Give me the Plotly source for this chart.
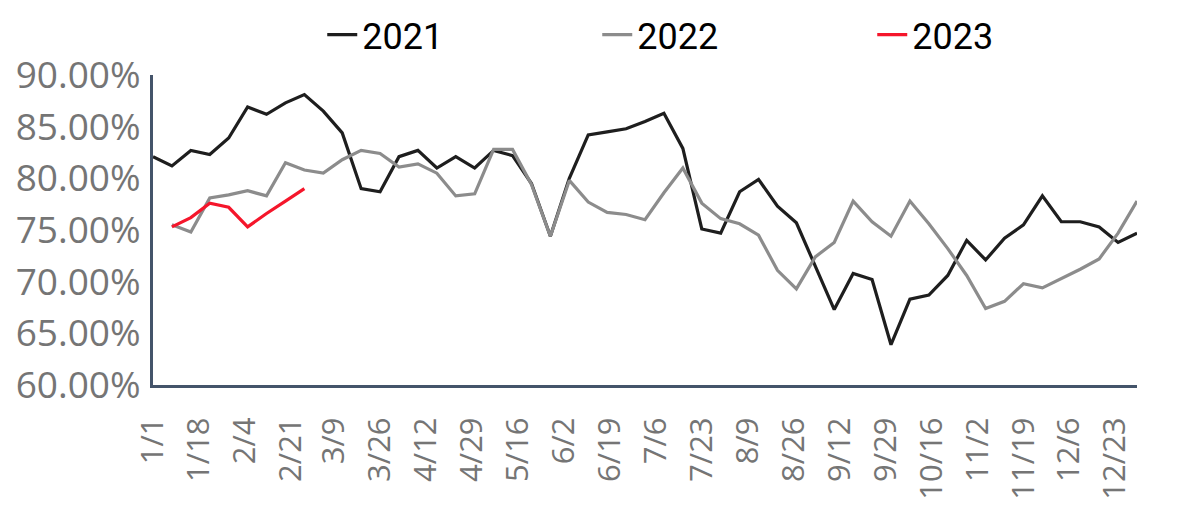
import pandas as pd
import plotly.graph_objects as go

# weekly readings, percent
y2021 = [82.1, 81.2, 82.7, 82.3, 83.9, 86.9, 86.2, 87.3, 88.1, 86.5,
         84.4, 79.0, 78.7, 82.1, 82.7, 81.0, 82.1, 81.0, 82.7, 82.2,
         79.5, 74.4, 80.0, 84.2, 84.5, 84.8, 85.5, 86.3, 82.9, 75.1,
         74.7, 78.7, 79.9, 77.3, 75.7, 71.5, 67.3, 70.8, 70.2, 63.9,
         68.3, 68.7, 70.6, 74.0, 72.1, 74.2, 75.5, 78.3, 75.8, 75.8,
         75.3, 73.8, 74.7]
y2022 = [None, 75.5, 74.8, 78.1, 78.4, 78.8, 78.3, 81.5, 80.8, 80.5,
         81.8, 82.7, 82.4, 81.1, 81.4, 80.5, 78.3, 78.5, 82.8, 82.8,
         79.4, 74.4, 79.8, 77.7, 76.7, 76.5, 76.0, 78.6, 81.0, 77.6,
         76.1, 75.6, 74.5, 71.1, 69.3, 72.4, 73.8, 77.8, 75.8, 74.4,
         77.8, 75.6, 73.2, 70.6, 67.4, 68.1, 69.8, 69.4, 70.3, 71.2,
         72.2, 74.7, 77.8]
y2023 = [None, 75.3, 76.2, 77.6, 77.2, 75.3, 76.6, 77.8, 79.0]

tick_labels = ["1/1", "1/18", "2/4", "2/21", "3/9", "3/26", "4/12", "4/29",
               "5/16", "6/2", "6/19", "7/6", "7/23", "8/9", "8/26", "9/12",
               "9/29", "10/16", "11/2", "11/19", "12/6", "12/23"]

weeks = pd.date_range("2021-01-01", periods=len(y2021), freq="7D")
tick_vals = [pd.Timestamp("2021/" + t) for t in tick_labels]

fig = go.Figure()
fig.add_trace(go.Scatter(x=weeks, y=y2021, name="2021", mode="lines",
                         line=dict(color="#1e1e1e", width=3.2)))
fig.add_trace(go.Scatter(x=weeks, y=y2022, name="2022", mode="lines",
                         line=dict(color="#8c8c8c", width=3.2)))
fig.add_trace(go.Scatter(x=weeks[:len(y2023)], y=y2023, name="2023", mode="lines",
                         line=dict(color="#f5162b", width=3.2)))

# page body keeps its 8px margin, so the figure is 8px smaller than the window
fig.update_layout(
    width=1192, height=497,
    margin=dict(l=145, r=63, t=67, b=120, autoexpand=False),
    paper_bgcolor="white", plot_bgcolor="white",
    showlegend=True,
    legend=dict(orientation="h", x=0.172, xanchor="left", y=1.13, yanchor="middle",
                font=dict(family="Roboto", size=36, color="black"),
                entrywidth=230, entrywidthmode="pixels"),
    font=dict(family="Open Sans", color="#757575"),
)
fig.update_xaxes(
    range=[weeks[0], weeks[-1]],
    tickvals=tick_vals, ticktext=tick_labels, tickangle=-90,
    tickfont=dict(size=31, color="#757575"),
    ticklabelstandoff=17, automargin=False,
    showgrid=False, zeroline=False,
    showline=True, linecolor="#44546a", linewidth=3,
    ticks="",
)
fig.update_yaxes(
    range=[60, 90], dtick=5, tickformat=".2f", ticksuffix="%",
    tickfont=dict(size=37, color="#757575"),
    ticklabelstandoff=2, automargin=False,
    showgrid=False, zeroline=False,
    showline=True, linecolor="#44546a", linewidth=3,
    ticks="",
)

fig.write_html("out.html")
